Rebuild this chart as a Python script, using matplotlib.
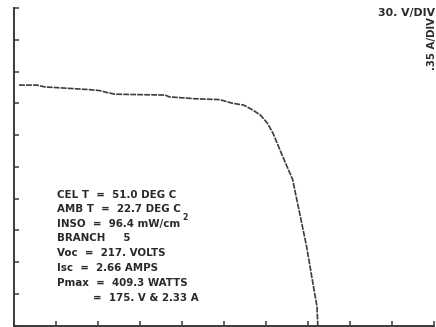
import matplotlib
matplotlib.use("Agg")
import matplotlib.pyplot as plt
import numpy as np

# I-V trace of branch 5 (volts, amps)
voltage = [3.6, 16.4, 22, 33, 54, 61, 66, 72, 108, 111, 129, 147, 156, 164,
           170, 176, 181, 185, 192, 199, 204, 209, 213, 216.4, 217]
current = [2.65, 2.65, 2.63, 2.62, 2.60, 2.59, 2.57, 2.55, 2.54, 2.52, 2.50,
           2.49, 2.45, 2.43, 2.38, 2.32, 2.23, 2.12, 1.86, 1.61, 1.24, 0.87,
           0.51, 0.21, 0.0]

volts_per_div = 30.0
amps_per_div = 0.35
n_div = 10

info_lines = [
    "CEL T  =  51.0 DEG C",
    "AMB T  =  22.7 DEG C",
    "INSO  =  96.4 mW/cm",
    "BRANCH     5",
    "Voc  =  217. VOLTS",
    "Isc  =  2.66 AMPS",
    "Pmax  =  409.3 WATTS",
]
pmax_point = "=  175. V & 2.33 A"

W, H = 436, 327
fig = plt.figure(figsize=(W / 100, H / 100), dpi=100)
fig.patch.set_facecolor("white")

x0, x1 = 14, 434
y_top, y_bot = 8, 325.5
ax = fig.add_axes([x0 / W, (H - y_bot) / H, (x1 - x0) / W, (y_bot - y_top) / H])
ax.set_xlim(0, volts_per_div * n_div)
ax.set_ylim(0, amps_per_div * n_div)
ax.set_xticks(np.arange(0, n_div + 1) * volts_per_div)
ax.set_yticks(np.arange(0, n_div + 1) * amps_per_div)
ax.tick_params(direction="in", length=3.5, width=1.1, colors="#3a3a3a",
               labelbottom=False, labelleft=False)
for side in ("top", "right"):
    ax.spines[side].set_visible(False)
for side in ("left", "bottom"):
    ax.spines[side].set_color("#3a3a3a")
    ax.spines[side].set_linewidth(1.4)
ax.patch.set_alpha(0)

ax.plot(voltage, current, color="#3c3c3c", lw=1.2,
        linestyle=(0, (3.5, 0.7)), clip_on=False)

txt_color = "#2a2a2a"
font = dict(family="DejaVu Sans", weight="bold", color=txt_color)

fig.text(435 / W, 1 - 13 / H, "30. V/DIV", ha="right", va="center",
         fontsize=7.8, **font)
fig.text(432 / W, 1 - 44 / H, ".35 A/DIV", ha="center", va="center",
         rotation=90, fontsize=7.3, **font)

line_y = [195, 209, 223.5, 238, 253, 268, 283]
for yy, s in zip(line_y, info_lines):
    fig.text(57 / W, 1 - yy / H, s, ha="left", va="center", fontsize=7.4, **font)
fig.text(93 / W, 1 - 298 / H, pmax_point, ha="left", va="center",
         fontsize=7.4, **font)
fig.text(182 / W, 1 - 217 / H, "2", ha="left", va="center", fontsize=5.5, **font)

fig.savefig("out.png", dpi=100, facecolor="white")
